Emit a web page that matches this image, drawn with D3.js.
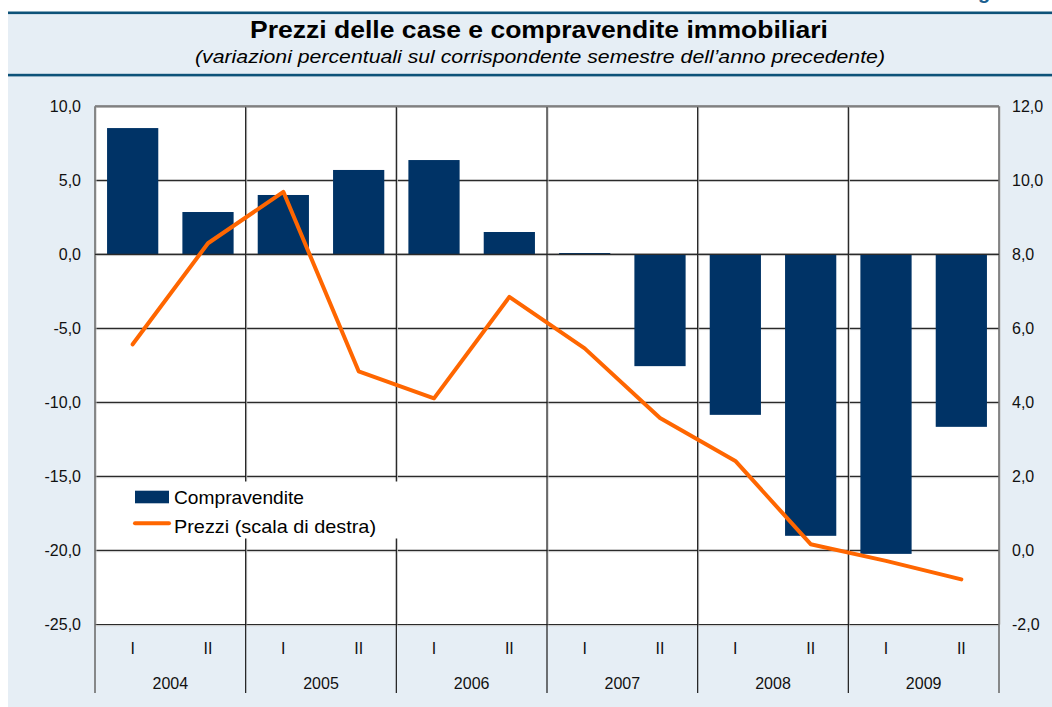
<!DOCTYPE html>
<html>
<head>
<meta charset="utf-8">
<script src="https://cdn.jsdelivr.net/npm/d3@7"></script>
<style>
  html, body { margin: 0; padding: 0; background: #ffffff; }
  svg { display: block; }
  svg text { font-family: "Liberation Sans", Arial, sans-serif; }
</style>
</head>
<body>
<svg id="chart" width="1052" height="707"></svg>
<script>
// ---- data ----
const categories = ["2004-I","2004-II","2005-I","2005-II","2006-I","2006-II","2007-I","2007-II","2008-I","2008-II","2009-I","2009-II"];
const semesterLabels = ["I","II","I","II","I","II","I","II","I","II","I","II"];
const years = ["2004","2005","2006","2007","2008","2009"];
const compravendite = [8.53, 2.86, 4.01, 5.70, 6.37, 1.51, 0.09, -7.55, -10.84, -19.01, -20.23, -11.65];
const prezzi = [5.57, 8.30, 9.69, 4.84, 4.11, 6.85, 5.46, 3.58, 2.42, 0.17, -0.28, -0.78];
const leftTicks = [10, 5, 0, -5, -10, -15, -20, -25];
const rightTicks = [12, 10, 8, 6, 4, 2, 0, -2];
const title = "Prezzi delle case e compravendite immobiliari";
const subtitle = "(variazioni percentuali sul corrispondente semestre dell\u2019anno precedente)";
const legendLabels = ["Compravendite", "Prezzi (scala di destra)"];

// ---- layout ----
const W = 1052, H = 707;
const L = 95, R = 999, T = 106.3, B = 624.5;
const svg = d3.select("#chart");
const itFmt = d3.formatLocale({decimal: ",", thousands: ".", grouping: [3], currency: ["", "€"], minus: "-"}).format(".1f");

// background panel
svg.append("rect").attr("x", 8).attr("y", 12).attr("width", W - 8).attr("height", H - 12).attr("fill", "#e6eef5");
// partial heading glyph at top (cut off in the reference too)
svg.append("text").attr("x", 978).attr("y", -1).attr("font-size", 20).attr("font-weight", "bold")
  .attr("fill", "#1b5f8f").text("g");
// rules
svg.append("rect").attr("x", 8).attr("y", 11.5).attr("width", W - 8).attr("height", 2.6).attr("fill", "#0d5279");
svg.append("rect").attr("x", 8).attr("y", 73.8).attr("width", W - 8).attr("height", 2.6).attr("fill", "#0d5279");

// titles
svg.append("text").attr("x", 539).attr("y", 37.5).attr("text-anchor", "middle")
  .attr("font-size", 24).attr("font-weight", "bold").attr("fill", "#000")
  .attr("textLength", 578).attr("lengthAdjust", "spacingAndGlyphs").text(title);
svg.append("text").attr("x", 540).attr("y", 63).attr("text-anchor", "middle")
  .attr("font-size", 18.5).attr("font-style", "italic").attr("fill", "#000")
  .attr("textLength", 690).attr("lengthAdjust", "spacingAndGlyphs").text(subtitle);

// scales
const x = d3.scaleBand().domain(categories).range([L, R]).paddingInner(0.32).paddingOuter(0.16);
const yL = d3.scaleLinear().domain([-25, 10]).range([B, T]);
const yR = d3.scaleLinear().domain([-2, 12]).range([B, T]);
const yearX = d3.scaleLinear().domain([0, years.length]).range([L, R]);

// plot area
svg.append("rect").attr("x", L).attr("y", T).attr("width", R - L).attr("height", B - T).attr("fill", "#ffffff");

// horizontal gridlines (light shadow + dark line)
const grid = svg.append("g");
grid.selectAll("line.sh").data(leftTicks).join("line")
  .attr("x1", L).attr("x2", R).attr("y1", d => yL(d) + 1.2).attr("y2", d => yL(d) + 1.2)
  .attr("stroke", "#c4c4c4").attr("stroke-width", 1);
grid.selectAll("line.gd").data(leftTicks).join("line")
  .attr("x1", L).attr("x2", R).attr("y1", d => yL(d)).attr("y2", d => yL(d))
  .attr("stroke", "#2a2a2a").attr("stroke-width", 1.2);

// vertical year separators (plot + category area)
const yearBounds = d3.range(years.length + 1);
grid.selectAll("line.vs").data(yearBounds).join("line")
  .attr("x1", d => yearX(d) + 1).attr("x2", d => yearX(d) + 1)
  .attr("y1", T).attr("y2", B)
  .attr("stroke", "#c4c4c4").attr("stroke-width", 1);
grid.selectAll("line.v").data(yearBounds).join("line")
  .attr("x1", d => yearX(d)).attr("x2", d => yearX(d))
  .attr("y1", T).attr("y2", 693)
  .attr("stroke", d => (d === 0 || d === years.length) ? "#6e6e6e" : "#1a1a1a")
  .attr("stroke-width", d => (d === 0 || d === years.length) ? 1.6 : 1.2);
// top border
svg.append("line").attr("x1", L).attr("x2", R).attr("y1", T).attr("y2", T)
  .attr("stroke", "#808080").attr("stroke-width", 2);

// bars
svg.append("g").selectAll("rect").data(compravendite).join("rect")
  .attr("x", (d, i) => x(categories[i]))
  .attr("width", x.bandwidth())
  .attr("y", d => yL(Math.max(0, d)))
  .attr("height", d => Math.abs(yL(d) - yL(0)))
  .attr("fill", "#003366");

// zero line redraw over bars
svg.append("line").attr("x1", L).attr("x2", R).attr("y1", yL(0)).attr("y2", yL(0))
  .attr("stroke", "#2a2a2a").attr("stroke-width", 1.2);

// price line
const line = d3.line().x((d, i) => x(categories[i]) + x.bandwidth() / 2).y(d => yR(d));
svg.append("path").datum(prezzi).attr("d", line)
  .attr("fill", "none").attr("stroke", "#ff6600").attr("stroke-width", 4)
  .attr("stroke-linejoin", "round").attr("stroke-linecap", "round");

// axes (labels only)
const axL = svg.append("g").attr("transform", `translate(${L - 14},0)`)
  .call(d3.axisLeft(yL).tickValues(leftTicks).tickSize(0).tickPadding(0).tickFormat(itFmt));
const axR = svg.append("g").attr("transform", `translate(${R + 13},0)`)
  .call(d3.axisRight(yR).tickValues(rightTicks).tickSize(0).tickPadding(0).tickFormat(itFmt));
[axL, axR].forEach(a => {
  a.attr("font-family", null).attr("font-size", null);
  a.select(".domain").remove();
  a.selectAll("text").attr("font-size", 16).attr("fill", "#111");
});

// category axis
const axB = svg.append("g").attr("transform", `translate(0,${B})`)
  .call(d3.axisBottom(x).tickSize(0).tickPadding(0).tickFormat((d, i) => semesterLabels[i]));
axB.attr("font-family", null).attr("font-size", null);
axB.select(".domain").remove();
axB.selectAll("text").attr("font-size", 16).attr("fill", "#111").attr("dy", null).attr("y", 29.5);

svg.append("g").selectAll("text").data(years).join("text")
  .attr("x", (d, i) => (yearX(i) + yearX(i + 1)) / 2)
  .attr("y", 688.5)
  .attr("text-anchor", "middle").attr("font-size", 16).attr("fill", "#111").text(d => d);

// legend
const lg = svg.append("g");
lg.append("rect").attr("x", 127).attr("y", 481.5).attr("width", 273).attr("height", 57).attr("fill", "#ffffff");
lg.append("rect").attr("x", 135).attr("y", 490.7).attr("width", 34).attr("height", 12.6).attr("fill", "#003366");
lg.append("line").attr("x1", 135).attr("x2", 169).attr("y1", 523.3).attr("y2", 523.3)
  .attr("stroke", "#ff6600").attr("stroke-width", 4).attr("stroke-linecap", "round");
lg.append("text").attr("x", 174).attr("y", 504).attr("font-size", 19).attr("fill", "#000")
  .attr("textLength", 130).attr("lengthAdjust", "spacingAndGlyphs").text(legendLabels[0]);
lg.append("text").attr("x", 174).attr("y", 533.3).attr("font-size", 19).attr("fill", "#000")
  .attr("textLength", 202).attr("lengthAdjust", "spacingAndGlyphs").text(legendLabels[1]);
</script>
</body>
</html>
